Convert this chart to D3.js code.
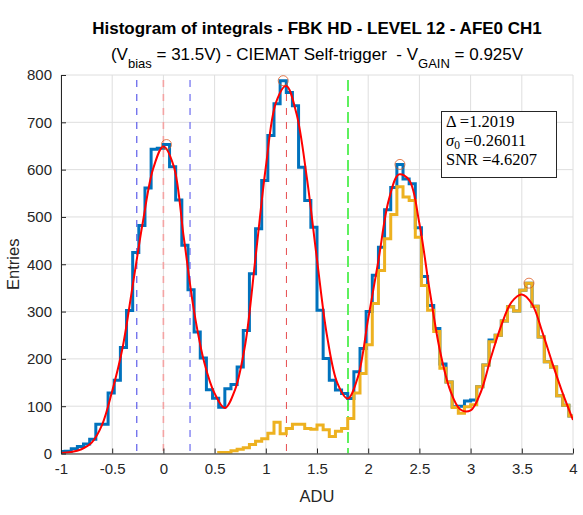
<!DOCTYPE html>
<html lang="en">
<head>
  <meta charset="UTF-8">
  <title>Histogram of integrals</title>
  <script src="https://cdn.jsdelivr.net/npm/d3@7/dist/d3.min.js"></script>
  <style>
    body { margin: 0; background: #fff; }
    text { font-family: "Liberation Sans", Arial, Helvetica, sans-serif; }
  </style>
</head>
<body>
<script>
  // histogram bins, 0.06 ADU wide, left edges from -1.02 to 3.96
  var binWidth = 0.06
  var binLeft = d3.range(-17, 67).map(function(m) { return +(m * binWidth).toFixed(2) })

  var blueCounts = [4, 5, 10, 15, 20, 30, 62, 62, 128, 155, 224, 302, 425, 482, 561, 643, 645,
    653, 606, 536, 440, 346, 257, 202, 135, 117, 98, 137, 146, 183, 260, 380, 475, 577,
    672, 739, 788, 763, 735, 605, 535, 478, 303, 201, 155, 134, 127, 116, 173, 222,
    300, 377, 436, 515, 562, 611, 580, 570, 477, 374, 313, 264, 189, 151, 99, 100, 111,
    113, 141, 187, 240, 250, 280, 310, 301, 345, 360, 311, 246, 194, 183, 122, 102, 79]

  // second histogram has no entries below 0.54 ADU
  var orangeCounts = [null, null, null, null, null, null, null, null, null, null, null, null, null,
    null, null, null, null, null, null, null, null, null, null, null, null, null,
    2, 2, 6, 9, 12, 19, 26, 31, 43, 66, 42, 53, 62, 62, 53, 51, 60, 50, 36, 47, 53, 74,
    128, 169, 230, 317, 387, 454, 505, 564, 542, 535, 457, 355, 303, 258, 180, 151, 97,
    85, 99, 103, 141, 187, 236, 250, 280, 310, 301, 345, 360, 311, 246, 194, 183, 122, 102, 79]

  // fitted curve
  var fitX = [-1, -0.9, -0.8, -0.7, -0.6, -0.5, -0.4, -0.3, -0.2, -0.1, 0, 0.1, 0.2, 0.3, 0.4, 0.5,
    0.6, 0.7, 0.8, 0.9, 1, 1.1, 1.2, 1.3, 1.4, 1.5, 1.6, 1.7, 1.8, 1.9, 2, 2.1, 2.2, 2.3, 2.4,
    2.5, 2.6, 2.7, 2.8, 2.9, 3, 3.1, 3.2, 3.3, 3.4, 3.5, 3.6, 3.7, 3.8, 3.9, 4]
  var fitY = [1, 3, 9, 23, 60, 132, 222, 355, 490, 602, 649, 608, 455, 300, 192, 127,
    96, 135, 232, 415, 605, 742, 777, 718, 584, 410, 246, 148, 116, 162, 285, 408, 535, 590, 578,
    486, 345, 218, 134, 93, 91, 130, 204, 271, 320, 336, 316, 257, 190, 127, 71]

  var peakX = [0.03, 1.17, 2.31, 3.57]
  var peakY = [653, 788, 611, 360]

  var delta = 1.2019
  var sigma0 = 0.26011
  var snr = 4.6207

  var xTicks = [-1, -0.5, 0, 0.5, 1, 1.5, 2, 2.5, 3, 3.5, 4]
  var yTicks = [0, 100, 200, 300, 400, 500, 600, 700, 800]

  var width = 583, height = 515
  var plotL = 61, plotR = 573, plotT = 75, plotB = 453.5

  var svg = d3.select('body').append('svg').attr('width', width).attr('height', height)

  var x = d3.scaleLinear().domain([-1, 4]).range([plotL, plotR])
  var y = d3.scaleLinear().domain([0, 800]).range([plotB, plotT])

  svg.append('clipPath').attr('id', 'plot')
    .append('rect').attr('x', plotL).attr('y', plotT).attr('width', plotR - plotL).attr('height', plotB - plotT)

  // grid
  var grid = svg.append('g').attr('stroke', '#dedede').attr('stroke-width', 1)
  grid.selectAll('.gx').data(xTicks).enter().append('line')
    .attr('x1', function(d) { return x(d) }).attr('x2', function(d) { return x(d) })
    .attr('y1', plotT).attr('y2', plotB)
  grid.selectAll('.gy').data(yTicks).enter().append('line')
    .attr('x1', plotL).attr('x2', plotR)
    .attr('y1', function(d) { return y(d) }).attr('y2', function(d) { return y(d) })

  var plot = svg.append('g').attr('clip-path', 'url(#plot)')

  // reference lines
  var refLines = [
    { v: -sigma0, color: '#5c5cea', w: 1.2, dash: '7,7' },
    { v: 0, color: '#f4a3a3', w: 1.6, dash: '7,7' },
    { v: sigma0, color: '#6a6af0', w: 1.2, dash: '7,7' },
    { v: delta, color: '#e8585a', w: 1.1, dash: '7,7' },
    { v: 1.5 * delta, color: '#5ef05e', w: 2, dash: '11,5' }
  ]
  plot.selectAll('.ref').data(refLines).enter().append('line')
    .attr('x1', function(d) { return x(d.v) }).attr('x2', function(d) { return x(d.v) })
    .attr('y1', plotT + 5).attr('y2', plotB)
    .attr('stroke', function(d) { return d.color })
    .attr('stroke-width', function(d) { return d.w })
    .attr('stroke-dasharray', function(d) { return d.dash })

  function stairs(counts) {
    var pts = []
    var first = true
    counts.forEach(function(c, i) {
      if (c === null) return
      if (first) { pts.push([binLeft[i], 0]); first = false }
      pts.push([binLeft[i], c])
      pts.push([binLeft[i] + binWidth, c])
    })
    pts.push([pts[pts.length - 1][0], 0])
    return pts
  }

  var line = d3.line()
    .x(function(d) { return x(d[0]) })
    .y(function(d) { return y(d[1]) })

  plot.append('path')
    .attr('d', line(stairs(blueCounts)))
    .attr('fill', 'none').attr('stroke', '#0072BD').attr('stroke-width', 3)

  plot.append('path')
    .attr('d', line(stairs(orangeCounts)))
    .attr('fill', 'none').attr('stroke', '#EDB120').attr('stroke-width', 3)

  var fitLine = d3.line()
    .x(function(d, i) { return x(fitX[i]) })
    .y(function(d) { return y(d) })
    .curve(d3.curveCatmullRom)

  plot.append('path')
    .attr('d', fitLine(fitY))
    .attr('fill', 'none').attr('stroke', '#ff0000').attr('stroke-width', 2)

  svg.selectAll('.peak').data(peakY).enter().append('circle')
    .attr('cx', function(d, i) { return x(peakX[i]) })
    .attr('cy', function(d) { return y(d) })
    .attr('r', 5)
    .attr('fill', 'none').attr('stroke', '#D95319').attr('stroke-opacity', 0.75).attr('stroke-width', 1)

  // axes
  var xAxis = d3.axisBottom(x).tickValues(xTicks).tickSizeInner(-5).tickSizeOuter(0)
    .tickPadding(10).tickFormat(d3.format('~g'))
  var yAxis = d3.axisLeft(y).tickValues(yTicks).tickSizeInner(-5).tickSizeOuter(0)
    .tickPadding(9)

  var gx = svg.append('g').attr('transform', 'translate(0,' + plotB + ')').call(xAxis)
  var gy = svg.append('g').attr('transform', 'translate(' + plotL + ',0)').call(yAxis)
  ;[gx, gy].forEach(function(g) {
    g.selectAll('path, line').attr('stroke', '#262626')
    g.selectAll('text').attr('fill', '#262626').style('font-size', '15px')
      .style('font-family', '"Liberation Sans", Arial, sans-serif')
  })
  gx.selectAll('text').text(function(d) { return d3.format('~g')(d).replace('\u2212', '-') })

  svg.append('text').attr('x', (plotL + plotR) / 2).attr('y', 502)
    .attr('text-anchor', 'middle').attr('fill', '#262626').style('font-size', '16.5px').text('ADU')
  svg.append('text').attr('transform', 'translate(19,' + ((plotT + plotB) / 2) + ') rotate(-90)')
    .attr('text-anchor', 'middle').attr('fill', '#262626').style('font-size', '16.5px').text('Entries')

  // titles
  svg.append('text').attr('x', 317).attr('y', 34).attr('text-anchor', 'middle')
    .style('font-size', '17px').style('font-weight', 'bold').attr('fill', '#000')
    .text('Histogram of integrals - FBK HD - LEVEL 12 - AFE0 CH1')

  var sub = svg.append('text').attr('x', 317).attr('y', 60).attr('text-anchor', 'middle')
    .style('font-size', '17px').attr('fill', '#000').attr('xml:space', 'preserve')
  sub.append('tspan').text('(V')
  sub.append('tspan').attr('dy', 8).style('font-size', '13px').text('bias')
  sub.append('tspan').attr('dy', -8).text(' = 31.5V) - CIEMAT Self-trigger  - V')
  sub.append('tspan').attr('dy', 8).style('font-size', '13px').text('GAIN')
  sub.append('tspan').attr('dy', -8).text(' = 0.925V')

  // stats box
  svg.append('rect').attr('x', 441.5).attr('y', 111.5).attr('width', 115).attr('height', 66)
    .attr('fill', '#fff').attr('stroke', '#262626').attr('stroke-width', 1)

  var serif = '"Liberation Serif", "DejaVu Serif", serif'
  var stats = svg.append('g').style('font-size', '16.5px').attr('fill', '#000')
  stats.append('text').attr('x', 446).attr('y', 127).style('font-family', serif).text('\u0394 =' + delta)
  var s2 = stats.append('text').attr('x', 446).attr('y', 146).style('font-family', serif)
  s2.append('tspan').style('font-style', 'italic').text('\u03c3')
  s2.append('tspan').attr('dy', 3).style('font-size', '11.5px').text('0')
  s2.append('tspan').attr('dy', -3).text(' =' + sigma0)
  stats.append('text').attr('x', 446).attr('y', 165).style('font-family', serif).text('SNR =' + snr)
</script>
</body>
</html>
